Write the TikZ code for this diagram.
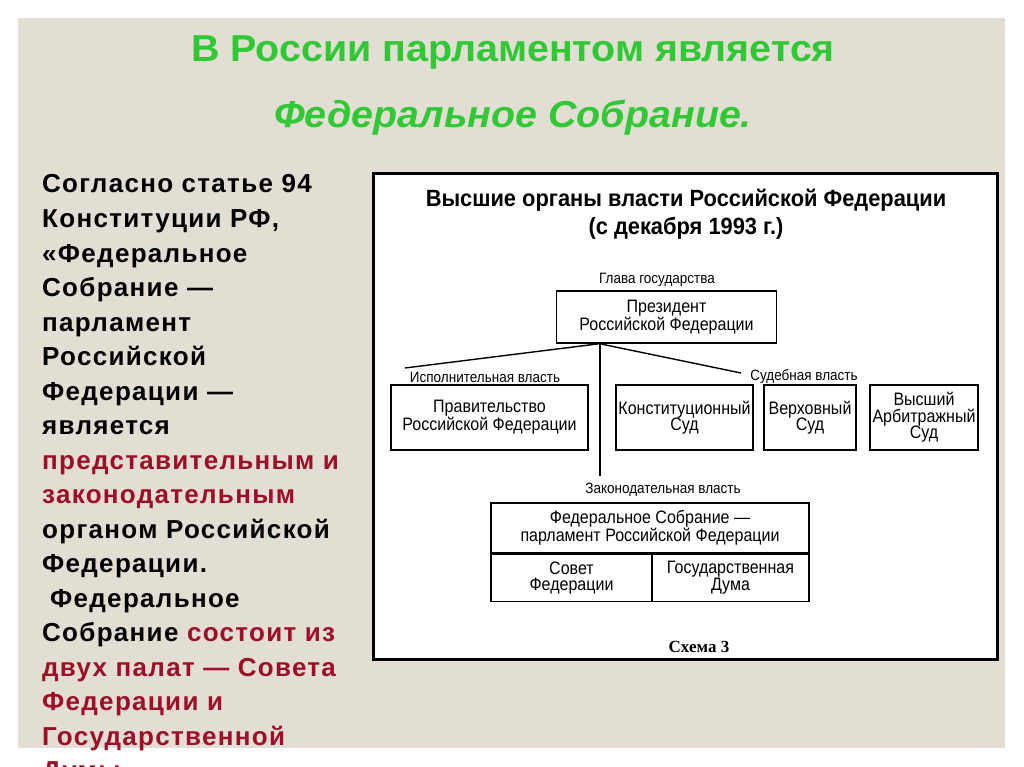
\documentclass[tikz,border=0pt]{standalone}
\usepackage{fontspec}
\setmainfont{Liberation Sans}
\newfontfamily\lefttextfont[LetterSpace=5]{Liberation Sans}
\newfontfamily\boxfont[FakeStretch=0.89]{Liberation Sans}
\newfontfamily\labelfont[FakeStretch=0.9]{Liberation Sans}
\newfontfamily\dtitlefont[FakeStretch=0.93]{Liberation Sans}
\newfontfamily\titlefont[FakeStretch=1.05]{Liberation Sans}
\newfontfamily\schemafont{Liberation Serif}
\definecolor{panelbg}{RGB}{227,222,211}
\definecolor{titlegreen}{RGB}{48,200,52}
\definecolor{darkred}{RGB}{158,14,40}
\newcommand{\rd}[1]{\textcolor{darkred}{#1}}
\tikzset{
  x=1pt,y=-1pt,
  maintitle/.style={anchor=base,inner sep=0,text=titlegreen,font=\titlefont\bfseries\fontsize{37.5}{42}\selectfont},
  leftline/.style={anchor=base west,inner sep=0,font=\lefttextfont\bfseries\fontsize{26}{30}\selectfont},
  dtitle/.style={anchor=base,inner sep=0,font=\dtitlefont\bfseries\fontsize{23.5}{26}\selectfont},
  orgbox/.style={draw,line width=1.4pt,align=center,inner sep=0,font=\boxfont\fontsize{18}{16.5}\selectfont},
  branchlabel/.style={anchor=base,inner sep=0,font=\labelfont\fontsize{15}{17}\selectfont},
  conn/.style={line width=1.4pt},
}
\begin{document}
\begin{tikzpicture}
\useasboundingbox (0,0) rectangle (1024,767);
\fill[white] (0,0) rectangle (1024,767);
\fill[panelbg] (18,18) rectangle (1005,748);
% titles
\node[maintitle] (t1) at (513,62) {В России парламентом является};
\node[maintitle] (t2) at (513,128) {\itshape Федеральное Собрание.};
% left text
\node[leftline] (l1) at (42,193) {Согласно статье 94};
\node[leftline] (l2) at (42,227.5) {Конституции РФ,};
\node[leftline] (l3) at (42,262) {«Федеральное};
\node[leftline] (l4) at (42,296.5) {Собрание —};
\node[leftline] (l5) at (42,331) {парламент};
\node[leftline] (l6) at (42,365.5) {Российской};
\node[leftline] (l7) at (42,400) {Федерации —};
\node[leftline] (l8) at (42,434.5) {является};
\node[leftline] (l9) at (42,469) {\rd{представительным и}};
\node[leftline] (l10) at (42,503.5) {\rd{законодательным}};
\node[leftline] (l11) at (42,538) {органом Российской};
\node[leftline] (l12) at (42,572.5) {Федерации.};
\node[leftline] (l13) at (50,607) {Федеральное};
\node[leftline] (l14) at (42,641.5) {Собрание \rd{состоит из}};
\node[leftline] (l15) at (42,676) {\rd{двух палат — Совета}};
\node[leftline] (l16) at (42,710.5) {\rd{Федерации и}};
\node[leftline] (l17) at (42,745) {\rd{Государственной}};
\node[leftline] (l18) at (42,779.5) {\rd{Думы»}.};
% diagram frame
\draw[line width=3pt,fill=white] (373.5,173.5) rectangle (997.5,659);
\node[dtitle] (d1) at (686,207) {Высшие органы власти Российской Федерации};
\node[dtitle] (d2) at (686,235) {(с декабря 1993 г.)};
% boxes
\node[orgbox,minimum width=220,minimum height=52] (pres) at (666.5,317) {Президент\\Российской Федерации};
\node[orgbox,minimum width=197,minimum height=65] (gov) at (489.5,417.5) {Правительство\\Российской Федерации};
\node[orgbox,minimum width=137,minimum height=65] (ks) at (684.5,417.5) {Конституционный\\Суд};
\node[orgbox,minimum width=92,minimum height=65] (vs) at (810,417.5) {Верховный\\Суд};
\node[orgbox,minimum width=108,minimum height=65] (vas) at (924,417.5) {Высший\\Арбитражный\\Суд};
\node[orgbox,minimum width=318,minimum height=50] (fs) at (650,528) {Федеральное Собрание —\\парламент Российской Федерации};
\node[orgbox,minimum width=161,minimum height=47,anchor=north west] (sf) at (fs.south west) {Совет\\Федерации};
\node[orgbox,minimum width=157,minimum height=47,anchor=north east] (gd) at (fs.south east) {Государственная\\Дума};
% labels
\node[branchlabel] (lhead) at (657,283) {Глава государства};
\node[branchlabel] (lexec) at (485,382) {Исполнительная власть};
\node[branchlabel] (ljud) at (804,380) {Судебная власть};
\node[branchlabel] (lleg) at (663,493) {Законодательная власть};
% connectors
\coordinate (j) at ([xshift=-67pt]pres.south);
\coordinate (execend) at (405,368);
\coordinate (judend) at (741,373);
\coordinate (legend) at (600,476);
\draw[conn] (j) -- (execend);
\draw[conn] (j) -- (judend);
\draw[conn] (j -| legend) -- (legend);
\node[anchor=base,inner sep=0,font=\schemafont\bfseries\fontsize{17}{20}\selectfont] (sch) at (699,652) {Схема 3};
\end{tikzpicture}
\end{document}
